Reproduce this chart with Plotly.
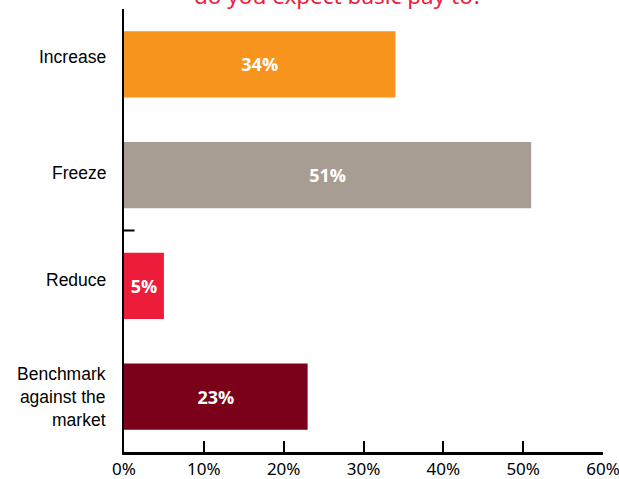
import plotly.graph_objects as go

categories = ["Increase", "Freeze", "Reduce", "Benchmark<br>against the<br>market"]
values = [34, 51, 5, 23]
colors = ["#F7941D", "#A89D93", "#EE1C3B", "#7B0019"]
x_ticks = [0, 10, 20, 30, 40, 50, 60]
x_tick_labels = [f"{v}%" for v in x_ticks]
title_text = "do you expect basic pay to?"

# vertical nudges (px) of the category labels, as in the reference
label_shift = [7, 2.5, 6, 0]

fig = go.Figure()
fig.add_trace(go.Bar(
    x=values, y=categories, orientation="h",
    marker=dict(color=colors, line=dict(width=0)),
    width=0.6,
    texttemplate="%{x}%", textposition="inside", insidetextanchor="middle",
    textfont=dict(family="Open Sans", size=18, color="white", weight="bold"),
    constraintext="none",
    hoverinfo="skip",
))

annotations = [dict(
    text=title_text, xref="paper", yref="paper", x=0.447, y=1.0,
    yshift=-4, yanchor="bottom", xanchor="center", showarrow=False,
    font=dict(family="Noto Sans", size=22.5, color="#EE1C3B"),
)]
for cat, sh in zip(categories, label_shift):
    annotations.append(dict(
        text=cat, xref="paper", yref="y", x=0, y=cat,
        xanchor="right", yanchor="middle", xshift=-16, yshift=sh,
        align="right", showarrow=False,
        font=dict(family="Liberation Sans", size=17.5, color="black"),
    ))

fig.update_layout(
    width=619, height=479,
    margin=dict(l=124, r=16, t=9, b=27),
    plot_bgcolor="white", paper_bgcolor="white",
    showlegend=False,
    xaxis=dict(
        range=[0, 60], tickvals=x_ticks, ticktext=x_tick_labels,
        automargin=False, ticklabeloverflow="allow",
        showgrid=False, zeroline=False,
        showline=True, linecolor="black", linewidth=2.5,
        ticks="inside", ticklen=11, tickwidth=2, tickcolor="black",
        tickfont=dict(family="Noto Sans", size=17, color="black"),
    ),
    yaxis=dict(
        categoryorder="array", categoryarray=categories,
        autorange="reversed", automargin=False,
        showgrid=False, zeroline=False,
        showline=True, linecolor="black", linewidth=2,
        ticks="", showticklabels=False,
    ),
    annotations=annotations,
    shapes=[dict(
        type="line", xref="paper", yref="y", x0=0, x1=0.022, y0=1.5, y1=1.5,
        line=dict(color="black", width=2),
    )],
)

fig.write_html(
    "out.html",
    config={"displayModeBar": False},
    post_script="document.body.style.margin='0';document.body.style.overflow='hidden';",
)
